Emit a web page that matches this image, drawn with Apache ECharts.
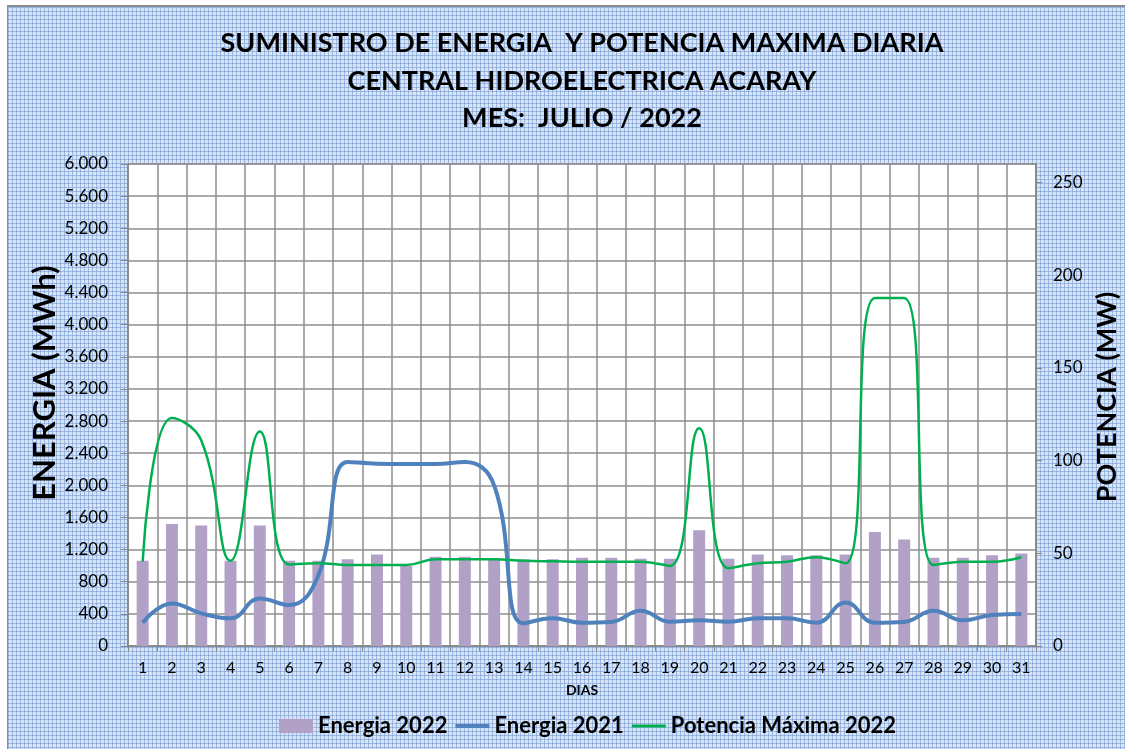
<!DOCTYPE html>
<html>
<head>
<meta charset="utf-8">
<script src="https://cdn.jsdelivr.net/npm/echarts@6/dist/echarts.min.js"></script>
<style>
html,body{margin:0;padding:0;background:#fff;width:1125px;height:749px;overflow:hidden;}
#bg{position:absolute;left:7px;top:5px;width:1118px;height:744px;border-left:1px solid #8c8c8c;border-top:2px solid #8c8c8c;
background-color:#d9e5f4;
background-image:
 linear-gradient(rgba(110,150,210,0.55) 1px, transparent 1px),
 linear-gradient(90deg, rgba(110,150,210,0.55) 1px, transparent 1px);
background-size:4px 4px;}
#chart{position:absolute;left:0;top:0;width:1125px;height:749px;}
</style>
</head>
<body>
<div id="bg"></div>
<div id="chart"></div>
<script>
const dias = ['1','2','3','4','5','6','7','8','9','10','11','12','13','14','15','16','17','18','19','20','21','22','23','24','25','26','27','28','29','30','31'];
const energia2022 = [1060,1520,1500,1060,1500,1060,1060,1080,1140,1000,1110,1110,1090,1080,1080,1100,1100,1085,1085,1440,1085,1140,1130,1130,1140,1420,1325,1100,1100,1130,1150];
const energia2021 = [290,530,406,344,592,509,880,2290,2270,2265,2265,2290,2000,282,344,290,300,439,302,320,302,344,344,290,542,290,300,439,320,385,397];
const potencia2022 = [45.5,123,111,46,115.7,44,44.7,43.7,43.7,43.7,46.8,46.8,46.8,46,45.7,45.5,45.5,45.5,43.2,117.5,42,44.6,45.5,47.9,44.6,187.7,187.7,43.7,45.5,45.5,47.9];
const titleLines = ['SUMINISTRO DE ENERGIA  Y POTENCIA MAXIMA DIARIA','CENTRAL HIDROELECTRICA ACARAY','MES:  JULIO / 2022'];

const FONT = 'Lato';
const chart = echarts.init(document.getElementById('chart'), null, {renderer:'canvas'});
const titleY = [43, 81, 118];
const graphics = titleLines.map((t,i)=>({
  type:'text', x:582, y:titleY[i],
  style:{text:t, fill:'#000', font:'bold 27px '+FONT, textAlign:'center', textVerticalAlign:'middle'}
}));
graphics.push({type:'text', x:45, y:383, rotation:Math.PI/2,
  style:{text:'ENERGIA (MWh)', fill:'#000', font:'bold 31px '+FONT, textAlign:'center', textVerticalAlign:'middle'}});
graphics.push({type:'text', x:1107, y:397, rotation:Math.PI/2,
  style:{text:'POTENCIA (MW)', fill:'#000', font:'bold 27px '+FONT, textAlign:'center', textVerticalAlign:'middle'}});
graphics.push({type:'text', x:582, y:690,
  style:{text:'DIAS', fill:'#000', font:'bold 14px '+FONT, textAlign:'center', textVerticalAlign:'middle'}});

const lineIcon = 'path://M0,0 H34 V4 H0 Z';
chart.setOption({
  backgroundColor:'transparent',
  animation:false,
  graphic:graphics,
  grid:{left:128, right:89, top:164, bottom:103, show:true, backgroundColor:'#ffffff', borderColor:'#868686', borderWidth:1},
  legend:{
    left:274, top:710, itemWidth:34, itemHeight:14, itemGap:8, symbolKeepAspect:true,
    textStyle:{fontFamily:FONT, fontWeight:'bold', fontSize:22, color:'#000'},
    data:[
      {name:'Energia 2022', icon:'rect'},
      {name:'Energia 2021', icon:lineIcon},
      {name:'Potencia Máxima 2022', icon:'path://M0,0 H34 V3 H0 Z'}
    ]
  },
  xAxis:{
    type:'category', data:dias, boundaryGap:true,
    axisLine:{lineStyle:{color:'#868686', width:1.5}},
    axisTick:{show:true, length:5, interval:0, lineStyle:{color:'#868686'}},
    axisLabel:{interval:0, margin:14, fontFamily:FONT, fontSize:16, color:'#000'},
    splitLine:{show:true, interval:0, lineStyle:{color:'#8e8e8e', width:1.5}}
  },
  yAxis:[
    {type:'value', min:0, max:6000, interval:400, position:'left',
     axisLine:{show:true, lineStyle:{color:'#868686', width:1.5}},
     axisTick:{show:true, length:7, lineStyle:{color:'#868686'}},
     axisLabel:{margin:20, fontFamily:FONT, fontSize:17, color:'#000',
       formatter:v=>v.toLocaleString('de-DE')},
     splitLine:{show:true, lineStyle:{color:'#8e8e8e', width:1.5}}},
    {type:'value', min:0, max:260, interval:50, position:'right',
     axisLine:{show:true, lineStyle:{color:'#868686', width:1.5}},
     axisTick:{show:true, length:6, lineStyle:{color:'#868686'}},
     axisLabel:{margin:17, fontFamily:FONT, fontSize:17, color:'#000', showMaxLabel:false},
     splitLine:{show:false}}
  ],
  series:[
    {name:'Energia 2022', type:'bar', data:energia2022, barWidth:12, yAxisIndex:0,
     itemStyle:{color:'#b2a1c7'}},
    {name:'Energia 2021', type:'line', data:energia2021, yAxisIndex:0, smooth:0.45,
     symbol:'none', lineStyle:{color:'#4f81bd', width:4}, itemStyle:{color:'#4f81bd'}},
    {name:'Potencia Máxima 2022', type:'line', data:potencia2022, yAxisIndex:1, smooth:0.45,
     symbol:'none', lineStyle:{color:'#00b050', width:2.5}, itemStyle:{color:'#00b050'}}
  ]
});
</script>
</body>
</html>
